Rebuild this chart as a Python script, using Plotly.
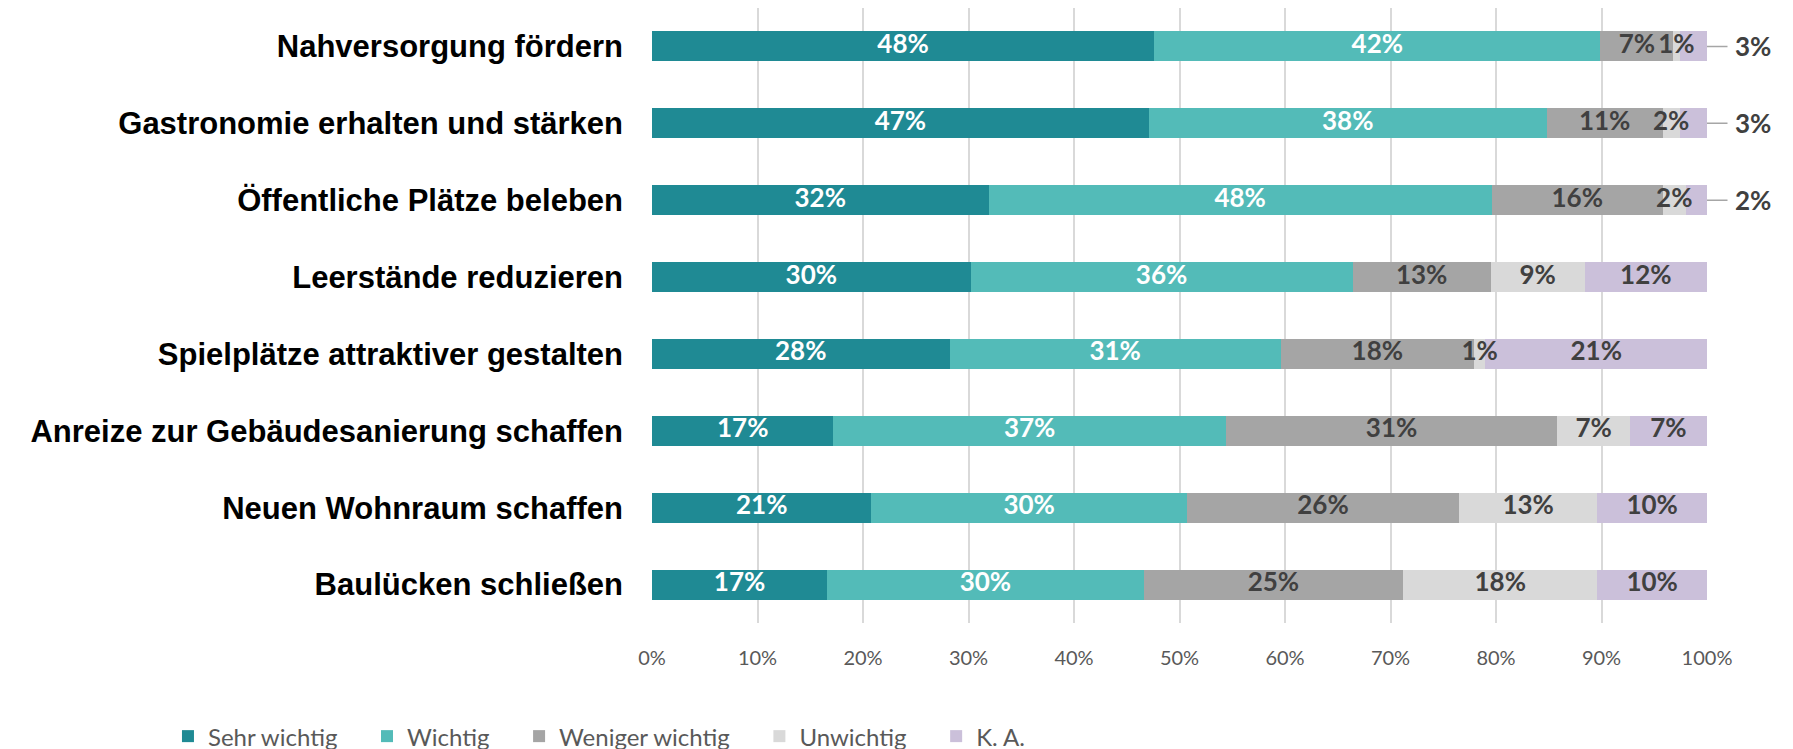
import plotly.graph_objects as go

# Kategorien (von oben nach unten)
categories = [
    "Nahversorgung fördern",
    "Gastronomie erhalten und stärken",
    "Öffentliche Plätze beleben",
    "Leerstände reduzieren",
    "Spielplätze attraktiver gestalten",
    "Anreize zur Gebäudesanierung schaffen",
    "Neuen Wohnraum schaffen",
    "Baulücken schließen",
]

# Anteile in %
sehr_wichtig = [47.6, 47.1, 31.9, 30.2, 28.2, 17.2, 20.8, 16.6]
wichtig = [42.3, 37.7, 47.7, 36.2, 31.4, 37.2, 29.9, 30.0]
weniger_wichtig = [6.9, 11.0, 16.2, 13.1, 18.3, 31.4, 25.8, 24.6]
unwichtig = [0.6, 1.6, 2.2, 8.9, 1.1, 6.9, 13.1, 18.4]
keine_angabe = [2.6, 2.6, 2.0, 11.6, 21.0, 7.3, 10.4, 10.4]

x_ticks = [0, 10, 20, 30, 40, 50, 60, 70, 80, 90, 100]

series = [
    ("Sehr wichtig", sehr_wichtig, "#1F8A94", "white"),
    ("Wichtig", wichtig, "#53BBB8", "white"),
    ("Weniger wichtig", weniger_wichtig, "#A5A5A5", "#404040"),
    ("Unwichtig", unwichtig, "#D9D9D9", "#404040"),
    ("K. A.", keine_angabe, "#CBC0DA", "#404040"),
]

# K. A.-Werte der ersten drei Zeilen stehen außerhalb des Balkens
outside_rows = [0, 1, 2]

label_font = "Lato, 'Open Sans', sans-serif"
pad = "\u00a0" * 4  # Abstand zwischen den Legendeneinträgen

fig = go.Figure()

for name, vals, color, _ in series:
    fig.add_trace(go.Bar(
        y=categories, x=vals, name=name + pad, orientation="h",
        marker=dict(color=color, line=dict(width=0)),
        hovertemplate=name + ": %{x:.0f}%<extra></extra>",
    ))

# Datenbeschriftungen in der Mitte der Segmente
base = [0.0] * len(categories)
annotations = []
for si, (name, vals, color, tcolor) in enumerate(series):
    xs, ys, texts = [], [], []
    for i, v in enumerate(vals):
        mid = base[i] + v / 2
        label = f"{v:.0f}%"
        if si == len(series) - 1 and i in outside_rows:
            annotations.append(dict(
                x=100, y=categories[i], xref="x", yref="y",
                text=label, showarrow=True, arrowhead=0, arrowwidth=1.5,
                arrowcolor="#A6A6A6", ax=46, ay=0, standoff=0, borderpad=7,
                font=dict(family=label_font, size=26, color="#404040", weight="bold"),
            ))
        else:
            xs.append(mid)
            ys.append(categories[i])
            texts.append(label)
        base[i] += v
    fig.add_trace(go.Scatter(
        x=xs, y=ys, text=texts, mode="text", showlegend=False, hoverinfo="skip",
        textposition="middle center",
        textfont=dict(family=label_font, size=26, color=tcolor, weight="bold"),
    ))

fig.update_layout(
    barmode="stack",
    bargap=0.61,
    width=1785, height=741,
    margin=dict(l=644, r=86, t=0, b=126, autoexpand=False),
    plot_bgcolor="white",
    paper_bgcolor="white",
    annotations=annotations,
    legend=dict(
        orientation="h", x=-0.4588, xanchor="left", y=-0.1846, yanchor="middle",
        font=dict(family=label_font, size=24, color="#595959"),
        traceorder="normal", itemclick=False, borderwidth=0,
    ),
    xaxis=dict(
        range=[0, 100], tickmode="array", tickvals=x_ticks,
        ticktext=[f"{t}%" for t in x_ticks],
        showgrid=True, gridcolor="#D9D9D9", gridwidth=1.5,
        zeroline=False, showline=False,
        tickfont=dict(family=label_font, size=20, color="#595959"),
        ticklabelstandoff=21,
    ),
    yaxis=dict(
        autorange="reversed", showgrid=False, zeroline=False, showline=False,
        tickfont=dict(family="'Liberation Sans', Arial, sans-serif", size=31,
                      color="black", weight="bold"),
        ticklabelstandoff=28,
    ),
)

fig.write_html("out.html")
